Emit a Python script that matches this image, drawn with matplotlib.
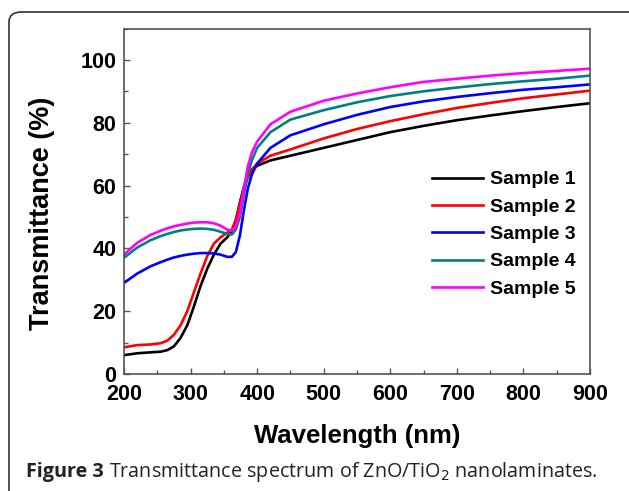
import matplotlib
matplotlib.use("Agg")
import matplotlib.pyplot as plt
from matplotlib.patches import FancyBboxPatch
from matplotlib.ticker import MultipleLocator

wl = [200, 220, 240, 255, 265, 275, 285, 295, 305, 315, 325, 335, 345, 355, 362, 368,
      374, 380, 386, 392, 400, 420, 450, 500, 550, 600, 650, 700, 750, 800, 850, 900]

sample1 = [6.0, 6.6, 6.9, 7.1, 7.6, 8.8, 11.5, 15.5, 21.5, 28.0, 33.5, 38.0, 41.5, 43.5, 45.5, 49.0,
           54.5, 59.5, 63.0, 65.0, 66.3, 68.0, 69.5, 72.0, 74.5, 77.0, 79.0, 80.8, 82.3, 83.7, 85.0, 86.2]
sample2 = [8.5, 9.2, 9.4, 9.8, 10.6, 12.5, 15.5, 20.0, 26.0, 32.0, 37.5, 41.5, 43.5, 45.0, 46.0, 49.0,
           54.0, 59.0, 62.5, 65.0, 67.0, 69.5, 71.5, 75.0, 78.0, 80.5, 82.7, 84.7, 86.3, 87.8, 89.0, 90.2]
sample3 = [29.0, 32.0, 34.3, 35.6, 36.4, 37.1, 37.6, 38.0, 38.3, 38.5, 38.5, 38.4, 38.0, 37.3, 37.3, 38.8,
           44.0, 52.0, 59.0, 63.5, 67.0, 72.0, 76.0, 79.5, 82.5, 85.0, 86.8, 88.2, 89.4, 90.5, 91.3, 92.2]
sample4 = [37.0, 40.3, 42.6, 43.9, 44.6, 45.2, 45.7, 46.0, 46.2, 46.3, 46.2, 45.9, 45.3, 44.6, 44.4, 46.0,
           50.0, 57.0, 63.5, 68.0, 72.0, 77.0, 81.0, 84.0, 86.5, 88.5, 90.0, 91.2, 92.3, 93.2, 94.0, 95.0]
sample5 = [38.0, 41.8, 44.3, 45.6, 46.4, 47.0, 47.5, 47.9, 48.2, 48.3, 48.3, 48.0, 47.2, 46.0, 45.6, 47.0,
           51.0, 59.0, 66.0, 70.5, 74.0, 79.5, 83.5, 87.0, 89.3, 91.3, 93.0, 94.0, 95.0, 95.8, 96.5, 97.2]

series = [sample1, sample2, sample3, sample4, sample5]
labels = ["Sample 1", "Sample 2", "Sample 3", "Sample 4", "Sample 5"]
colors = ["#000000", "#ff0000", "#0000ff", "#008080", "#ff00ff"]

xticks = [200, 300, 400, 500, 600, 700, 800, 900]
yticks = [0, 20, 40, 60, 80, 100]

plt.rcParams['font.family'] = ['Liberation Sans', 'DejaVu Sans']

fig = plt.figure(figsize=(6.29, 4.91), dpi=100)
fig.patch.set_facecolor("white")

# rounded frame around the figure panel
frame = FancyBboxPatch((9 / 629, -0.2), 1.2, (1 - 12 / 491) + 0.2,
                       boxstyle="round,pad=0,rounding_size=0.02",
                       transform=fig.transFigure, fill=False,
                       edgecolor="#333333", linewidth=1.2, clip_on=False)
fig.patches.append(frame)

ax = fig.add_axes([124 / 629, 1 - 374 / 491, (590 - 124) / 629, (374 - 28.5) / 491])
for s, lab, c in zip(series, labels, colors):
    ax.plot(wl, s, color=c, lw=1.9, label=lab)

ax.set_xlim(200, 900)
ax.set_ylim(0, 110)
ax.set_xticks(xticks)
ax.set_yticks(yticks)
ax.xaxis.set_minor_locator(MultipleLocator(50))
ax.yaxis.set_minor_locator(MultipleLocator(10))
ax.tick_params(which="both", direction="in", color="#555555", width=1.0)
ax.tick_params(which="major", length=4.5)
ax.tick_params(which="minor", length=3)
ax.tick_params(axis="x", pad=7)
ax.tick_params(axis="y", pad=5.5)
for lbl in ax.get_xticklabels() + ax.get_yticklabels():
    lbl.set_fontweight("bold")
    lbl.set_fontsize(15.5)
for sp in ax.spines.values():
    sp.set_color("#555555")
    sp.set_linewidth(1.2)

ax.set_xlabel("Wavelength (nm)", fontsize=18.5, fontweight="bold", labelpad=14)
ax.set_ylabel("Transmittance (%)", fontsize=19.5, fontweight="bold")
ax.yaxis.set_label_coords(-0.148, 0.465)

leg = ax.legend(loc="upper left", bbox_to_anchor=(0.662, 0.588), frameon=False,
                prop={"weight": "bold", "size": 14},
                handlelength=2.6, handletextpad=0.35, labelspacing=0.5,
                borderaxespad=0, borderpad=0)

# caption
fig.canvas.draw()
r = fig.canvas.get_renderer()
cap_y = 1 - 472 / 491
t1 = fig.text(26 / 629, cap_y, "Figure 3", fontsize=14.2, fontweight="bold",
              family=["Open Sans", "DejaVu Sans"], va="center", color="#222222")
bb = t1.get_window_extent(renderer=r)
fig.text(bb.x1 / fig.bbox.width + 5 / 629, cap_y,
         "Transmittance spectrum of ZnO/TiO$_2$ nanolaminates.", fontsize=14.2,
         family=["Open Sans", "DejaVu Sans"], va="center", color="#222222")

fig.savefig("out.png", dpi=100)
